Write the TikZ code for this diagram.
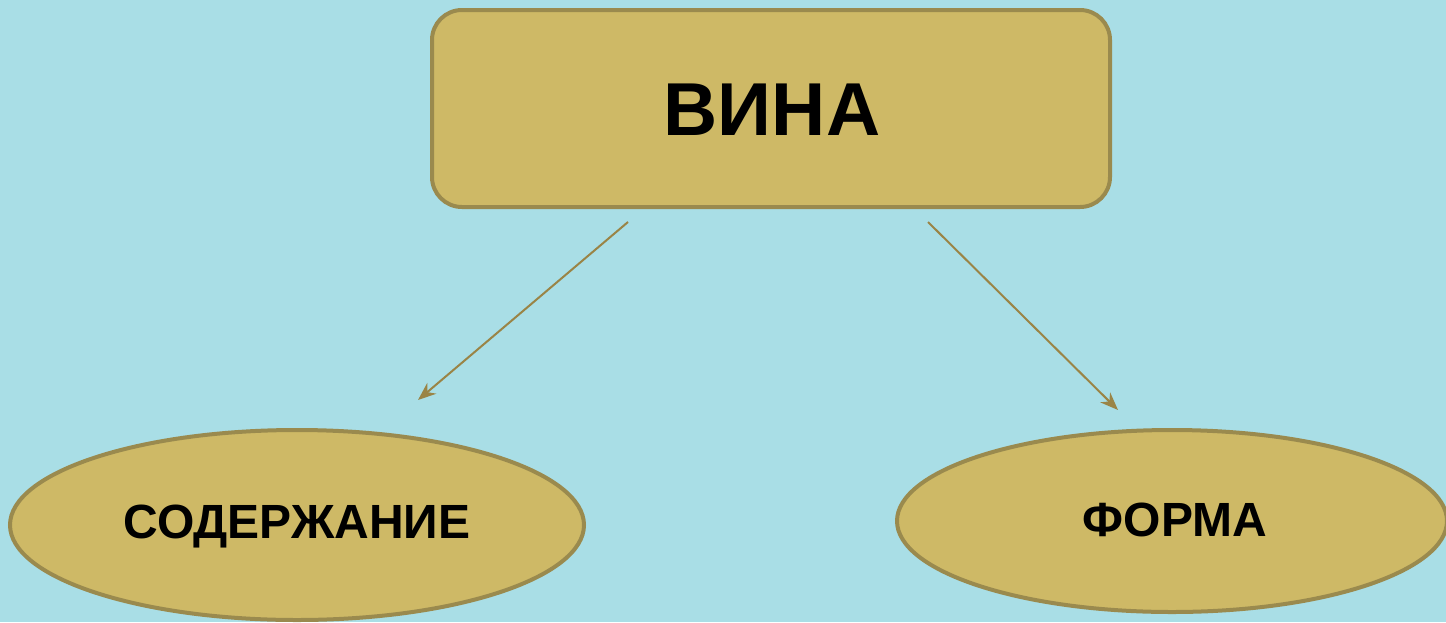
\documentclass[tikz,border=0pt]{standalone}
\usepackage{fontspec}
\setmainfont{Liberation Sans}
\usetikzlibrary{shapes.geometric,arrows.meta}
\definecolor{bgc}{HTML}{A9DEE6}
\definecolor{boxfill}{HTML}{CEB966}
\definecolor{boxline}{HTML}{9A8A4E}
\definecolor{arr}{HTML}{9A8446}
\tikzset{
  boxstyle/.style={draw=boxline, line width=2pt, fill=boxfill, rounded corners=15pt, inner sep=0pt},
  ellstyle/.style={draw=boxline, line width=2pt, fill=boxfill, ellipse, inner sep=0pt},
  conn/.style={draw=arr, line width=1pt, -{Stealth[length=9pt,width=7pt]}}
}
\begin{document}
\begin{tikzpicture}[x=0.5pt,y=-0.5pt]
\fill[bgc] (0,0) rectangle (1446,622);
\useasboundingbox (0,0) rectangle (1446,622);
\node[boxstyle, minimum width=339pt, minimum height=98.5pt] (vina) at (771,108.5) {};
\node[font=\fontsize{37.5}{40}\selectfont\bfseries] (vinat) at (772,110) {ВИНА};
\node[ellstyle, minimum width=287pt, minimum height=95pt] (sod) at (297,525) {};
\node[font=\fontsize{24}{26}\selectfont\bfseries] (sodt) at (297,527) {СОДЕРЖАНИЕ};
\node[ellstyle, minimum width=275pt, minimum height=91pt] (form) at (1172,521) {};
\node[font=\fontsize{24}{26}\selectfont\bfseries] (formt) at (1175,520) {ФОРМА};
\coordinate (a1) at (628,222);
\coordinate (a2) at (418,400);
\coordinate (b1) at (928,222);
\coordinate (b2) at (1118,410);
\draw[conn] (a1) -- (a2);
\draw[conn] (b1) -- (b2);
\end{tikzpicture}
\end{document}
